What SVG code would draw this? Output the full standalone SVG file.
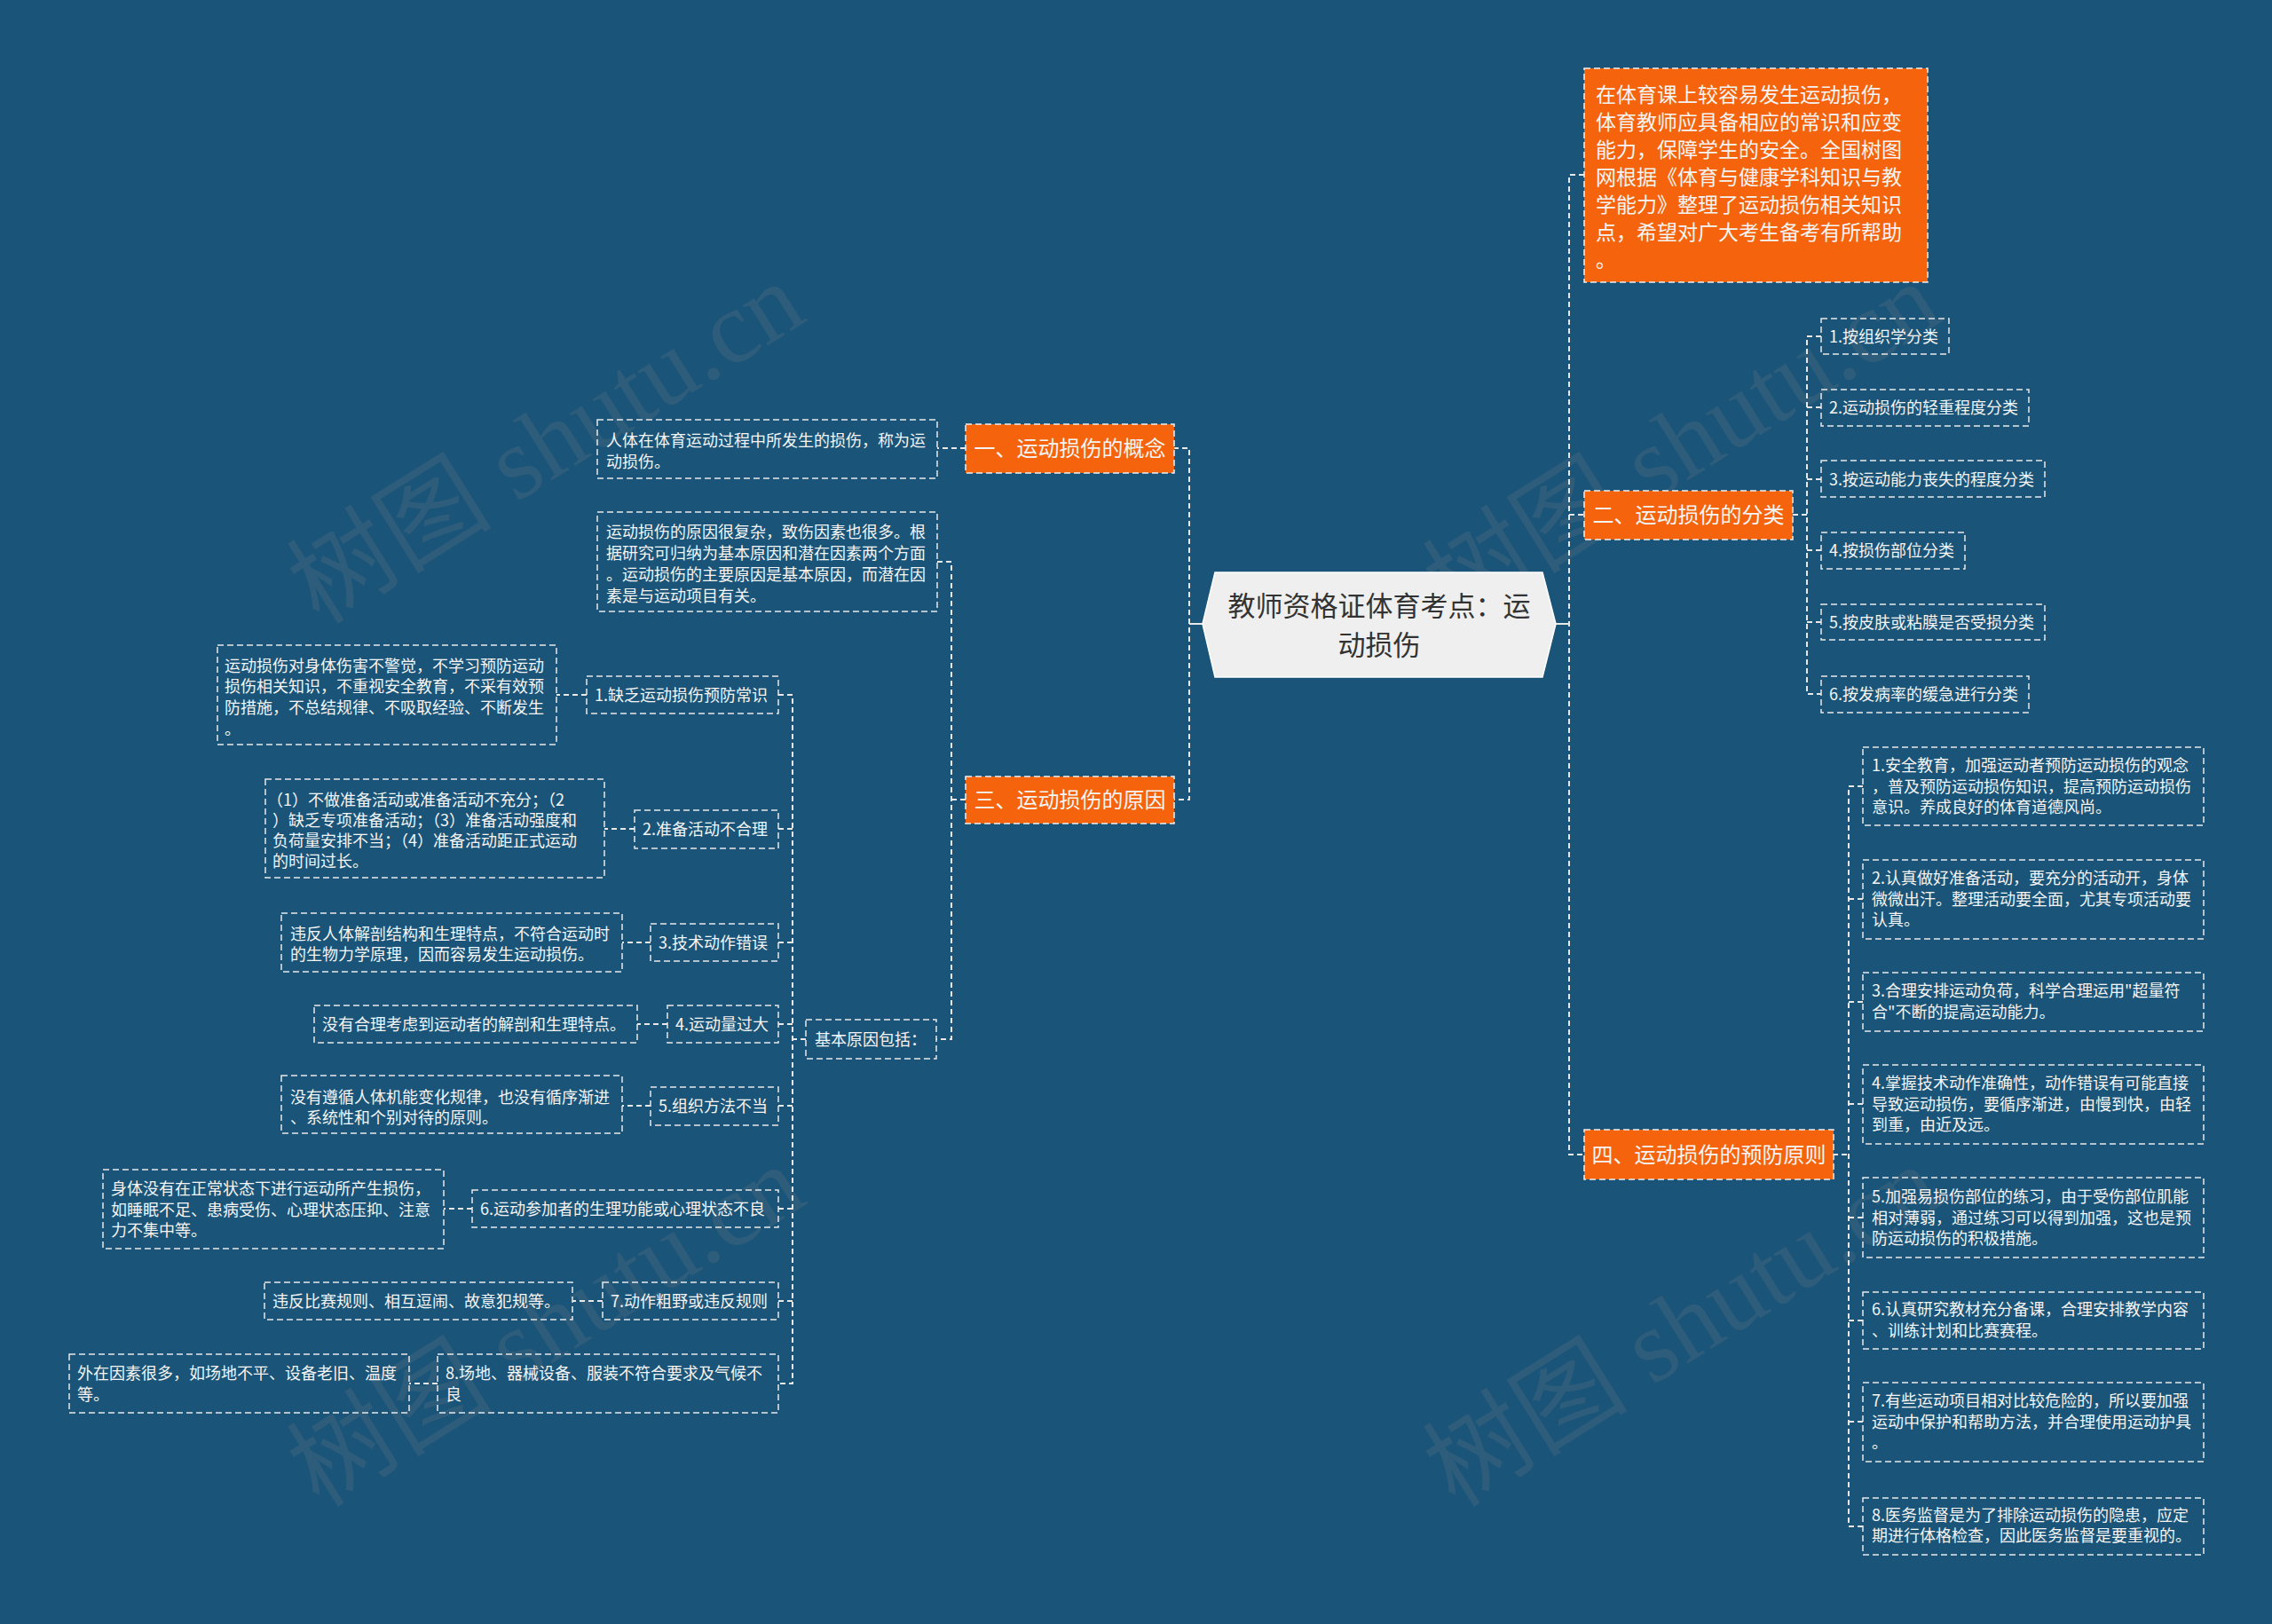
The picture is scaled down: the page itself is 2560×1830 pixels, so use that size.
<svg xmlns="http://www.w3.org/2000/svg" width="2560" height="1830" viewBox="0 0 2560 1830">
<defs>
<style>
.bg{fill:#1a5478}
.ln{fill:none;stroke:#e8e8e8;stroke-width:2;stroke-dasharray:6 4}
.sl{fill:none;stroke:#e8e8e8;stroke-width:2}
.leaf{fill:none;stroke:#e8e8e8;stroke-width:1.5;stroke-dasharray:7 4}
.org{fill:#f5640c;stroke:#f0f0f0;stroke-width:1.5;stroke-dasharray:7 4}
.t{font-family:"Noto Sans CJK SC","Microsoft YaHei",sans-serif;fill:#f4f4f4}
.s18{font-size:18px}
.s24{font-size:24px}
.s23{font-size:23px}
.ctr{text-anchor:middle}
.wm{font-family:"Liberation Serif","Noto Sans CJK SC",serif;font-size:116px;fill:#8a8a8a;opacity:0.18}
</style>
</defs>
<rect class="bg" x="0" y="0" width="2560" height="1830"/>

<g id="watermarks">
<text class="wm" transform="translate(360,705) rotate(-32)">树图 shutu.cn</text>
<text class="wm" transform="translate(1640,705) rotate(-32)">树图 shutu.cn</text>
<text class="wm" transform="translate(360,1700) rotate(-32)">树图 shutu.cn</text>
<text class="wm" transform="translate(1640,1700) rotate(-32)">树图 shutu.cn</text>
</g>

<g id="connectors">
<path class="sl" d="M1753,703 H1768"/>
<path class="sl" d="M1355,703 H1340"/>
<path class="ln" d="M1785,197 H1768 V1301 H1785"/>
<path class="ln" d="M1768,580 H1785"/>
<path class="ln" d="M1322,505 H1340 V901 H1322"/>
<path class="ln" d="M1088,505 H1056"/>
<path class="ln" d="M1088,901 H1072"/>
<path class="ln" d="M1056,633 H1072 V1171 H1055"/>
<path class="ln" d="M908,1171 H893"/>
<path class="ln" d="M877,783 H893 V1559 H877"/>
<path class="ln" d="M877,934 H893 M877,1062 H893 M877,1154 H893 M877,1246 H893 M877,1362 H893 M877,1466 H893"/>
<path class="ln" d="M661,783 H627 M715,934 H681 M733,1062 H701 M752,1154 H718 M733,1246 H701 M532,1362 H500 M679,1466 H645 M493,1559 H461"/>
<path class="ln" d="M2020,580 H2036"/>
<path class="ln" d="M2052,379 H2036 V782 H2052"/>
<path class="ln" d="M2036,459 H2052 M2036,540 H2052 M2036,620 H2052 M2036,701 H2052"/>
<path class="ln" d="M2065,1301 H2083"/>
<path class="ln" d="M2099,886 H2083 V1720 H2099"/>
<path class="ln" d="M2083,1013 H2099 M2083,1129 H2099 M2083,1244 H2099 M2083,1372 H2099 M2083,1488 H2099 M2083,1602 H2099"/>
</g>

<g id="center">
<polygon points="1369,645 1738,645 1753,703 1738,763 1369,763 1355,703" fill="#efefef" stroke="#ffffff" stroke-width="1.5"/>
<text class="t ctr" style="font-size:31px;fill:#333333" x="1554" y="694">教师资格证体育考点：运</text>
<text class="t ctr" style="font-size:31px;fill:#333333" x="1554" y="738">动损伤</text>
</g>

<g id="intro">
<rect class="org" x="1785" y="77" width="387" height="241"/>
<text class="t s23"><tspan x="1798" y="115">在体育课上较容易发生运动损伤，</tspan><tspan x="1798" y="146">体育教师应具备相应的常识和应变</tspan><tspan x="1798" y="177">能力，保障学生的安全。全国树图</tspan><tspan x="1798" y="208">网根据《体育与健康学科知识与教</tspan><tspan x="1798" y="239">学能力》整理了运动损伤相关知识</tspan><tspan x="1798" y="270">点，希望对广大考生备考有所帮助</tspan><tspan x="1798" y="301">。</tspan></text>
</g>

<g id="n1">
<rect class="org" x="1088" y="478" width="235" height="55"/>
<text class="t s24 ctr" x="1205.5" y="514">一、运动损伤的概念</text>
</g>
<g id="n1-1">
<rect class="leaf" x="673" y="473" width="383" height="66"/>
<text class="t s18"><tspan x="683" y="503">人体在体育运动过程中所发生的损伤，称为运</tspan><tspan x="683" y="527">动损伤。</tspan></text>
</g>

<g id="n3">
<rect class="org" x="1088" y="875" width="235" height="53"/>
<text class="t s24 ctr" x="1205.5" y="910">三、运动损伤的原因</text>
</g>
<g id="n3-1">
<rect class="leaf" x="673" y="577" width="383" height="112"/>
<text class="t s18"><tspan x="683" y="606">运动损伤的原因很复杂，致伤因素也很多。根</tspan><tspan x="683" y="630">据研究可归纳为基本原因和潜在因素两个方面</tspan><tspan x="683" y="654">。运动损伤的主要原因是基本原因，而潜在因</tspan><tspan x="683" y="678">素是与运动项目有关。</tspan></text>
</g>
<g id="n3-2">
<rect class="leaf" x="908" y="1149" width="147" height="44"/>
<text class="t s18" x="918" y="1177.5">基本原因包括：</text>
</g>

<g id="c1">
<rect class="leaf" x="661" y="762" width="216" height="42"/>
<text class="t s18" x="670" y="789.5">1.缺乏运动损伤预防常识</text>
</g>
<g id="c1t">
<rect class="leaf" x="245" y="727" width="382" height="112"/>
<text class="t s18"><tspan x="253" y="757">运动损伤对身体伤害不警觉，不学习预防运动</tspan><tspan x="253" y="780">损伤相关知识，不重视安全教育，不采有效预</tspan><tspan x="253" y="804">防措施，不总结规律、不吸取经验、不断发生</tspan><tspan x="253" y="828">。</tspan></text>
</g>

<g id="c2">
<rect class="leaf" x="715" y="913" width="162" height="43"/>
<text class="t s18" x="724" y="940.5">2.准备活动不合理</text>
</g>
<g id="c2t">
<rect class="leaf" x="299" y="878" width="382" height="111"/>
<text class="t s18"><tspan x="301" y="908">（1）不做准备活动或准备活动不充分；（2</tspan><tspan x="307" y="931">）缺乏专项准备活动；（3）准备活动强度和</tspan><tspan x="307" y="954">负荷量安排不当；（4）准备活动距正式运动</tspan><tspan x="307" y="977">的时间过长。</tspan></text>
</g>

<g id="c3">
<rect class="leaf" x="733" y="1041" width="144" height="42"/>
<text class="t s18" x="742" y="1068.5">3.技术动作错误</text>
</g>
<g id="c3t">
<rect class="leaf" x="317" y="1029" width="384" height="66"/>
<text class="t s18"><tspan x="327" y="1059">违反人体解剖结构和生理特点，不符合运动时</tspan><tspan x="327" y="1082">的生物力学原理，因而容易发生运动损伤。</tspan></text>
</g>

<g id="c4">
<rect class="leaf" x="752" y="1133" width="125" height="42"/>
<text class="t s18" x="761" y="1161">4.运动量过大</text>
</g>
<g id="c4t">
<rect class="leaf" x="354" y="1133" width="364" height="42"/>
<text class="t s18" x="363" y="1161">没有合理考虑到运动者的解剖和生理特点。</text>
</g>

<g id="c5">
<rect class="leaf" x="733" y="1225" width="144" height="43"/>
<text class="t s18" x="742" y="1252.5">5.组织方法不当</text>
</g>
<g id="c5t">
<rect class="leaf" x="317" y="1212" width="384" height="65"/>
<text class="t s18"><tspan x="327" y="1243">没有遵循人体机能变化规律，也没有循序渐进</tspan><tspan x="327" y="1266">、系统性和个别对待的原则。</tspan></text>
</g>

<g id="c6">
<rect class="leaf" x="532" y="1341" width="345" height="42"/>
<text class="t s18" x="541" y="1368.5">6.运动参加者的生理功能或心理状态不良</text>
</g>
<g id="c6t">
<rect class="leaf" x="116" y="1318" width="384" height="89"/>
<text class="t s18"><tspan x="125" y="1346">身体没有在正常状态下进行运动所产生损伤，</tspan><tspan x="125" y="1370">如睡眠不足、患病受伤、心理状态压抑、注意</tspan><tspan x="125" y="1393">力不集中等。</tspan></text>
</g>

<g id="c7">
<rect class="leaf" x="679" y="1445" width="198" height="42"/>
<text class="t s18" x="688" y="1472.5">7.动作粗野或违反规则</text>
</g>
<g id="c7t">
<rect class="leaf" x="298" y="1445" width="347" height="42"/>
<text class="t s18" x="307" y="1473">违反比赛规则、相互逗闹、故意犯规等。</text>
</g>

<g id="c8">
<rect class="leaf" x="493" y="1526" width="384" height="66"/>
<text class="t s18"><tspan x="502" y="1554">8.场地、器械设备、服装不符合要求及气候不</tspan><tspan x="502" y="1578">良</tspan></text>
</g>
<g id="c8t">
<rect class="leaf" x="78" y="1526" width="383" height="66"/>
<text class="t s18"><tspan x="87" y="1554">外在因素很多，如场地不平、设备老旧、温度</tspan><tspan x="87" y="1578">等。</tspan></text>
</g>

<g id="n2">
<rect class="org" x="1785" y="553" width="235" height="55"/>
<text class="t s24 ctr" x="1902.5" y="589">二、运动损伤的分类</text>
</g>
<g id="n2-1"><rect class="leaf" x="2052" y="359" width="144" height="40"/><text class="t s18" x="2061" y="385.5">1.按组织学分类</text></g>
<g id="n2-2"><rect class="leaf" x="2052" y="439" width="234" height="41"/><text class="t s18" x="2061" y="465.5">2.运动损伤的轻重程度分类</text></g>
<g id="n2-3"><rect class="leaf" x="2052" y="519" width="252" height="41"/><text class="t s18" x="2061" y="546.5">3.按运动能力丧失的程度分类</text></g>
<g id="n2-4"><rect class="leaf" x="2052" y="600" width="162" height="41"/><text class="t s18" x="2061" y="626.5">4.按损伤部位分类</text></g>
<g id="n2-5"><rect class="leaf" x="2052" y="681" width="252" height="40"/><text class="t s18" x="2061" y="707.5">5.按皮肤或粘膜是否受损分类</text></g>
<g id="n2-6"><rect class="leaf" x="2052" y="762" width="234" height="41"/><text class="t s18" x="2061" y="788.5">6.按发病率的缓急进行分类</text></g>

<g id="n4">
<rect class="org" x="1785" y="1273" width="281" height="56"/>
<text class="t s24 ctr" x="1925.5" y="1309.5">四、运动损伤的预防原则</text>
</g>
<g id="n4-1"><rect class="leaf" x="2099" y="842" width="384" height="88"/><text class="t s18"><tspan x="2109" y="869">1.安全教育，加强运动者预防运动损伤的观念</tspan><tspan x="2109" y="893">，普及预防运动损伤知识，提高预防运动损伤</tspan><tspan x="2109" y="916">意识。养成良好的体育道德风尚。</tspan></text></g>
<g id="n4-2"><rect class="leaf" x="2099" y="969" width="384" height="89"/><text class="t s18"><tspan x="2109" y="996">2.认真做好准备活动，要充分的活动开，身体</tspan><tspan x="2109" y="1020">微微出汗。整理活动要全面，尤其专项活动要</tspan><tspan x="2109" y="1043">认真。</tspan></text></g>
<g id="n4-3"><rect class="leaf" x="2099" y="1096" width="384" height="66"/><text class="t s18"><tspan x="2109" y="1123">3.合理安排运动负荷，科学合理运用"超量符</tspan><tspan x="2109" y="1147">合"不断的提高运动能力。</tspan></text></g>
<g id="n4-4"><rect class="leaf" x="2099" y="1200" width="384" height="89"/><text class="t s18"><tspan x="2109" y="1227">4.掌握技术动作准确性，动作错误有可能直接</tspan><tspan x="2109" y="1251">导致运动损伤，要循序渐进，由慢到快，由轻</tspan><tspan x="2109" y="1274">到重，由近及远。</tspan></text></g>
<g id="n4-5"><rect class="leaf" x="2099" y="1327" width="384" height="90"/><text class="t s18"><tspan x="2109" y="1355">5.加强易损伤部位的练习，由于受伤部位肌能</tspan><tspan x="2109" y="1379">相对薄弱，通过练习可以得到加强，这也是预</tspan><tspan x="2109" y="1402">防运动损伤的积极措施。</tspan></text></g>
<g id="n4-6"><rect class="leaf" x="2099" y="1456" width="384" height="64"/><text class="t s18"><tspan x="2109" y="1482">6.认真研究教材充分备课，合理安排教学内容</tspan><tspan x="2109" y="1506">、训练计划和比赛赛程。</tspan></text></g>
<g id="n4-7"><rect class="leaf" x="2099" y="1558" width="384" height="89"/><text class="t s18"><tspan x="2109" y="1585">7.有些运动项目相对比较危险的，所以要加强</tspan><tspan x="2109" y="1609">运动中保护和帮助方法，并合理使用运动护具</tspan><tspan x="2109" y="1632">。</tspan></text></g>
<g id="n4-8"><rect class="leaf" x="2099" y="1688" width="384" height="64"/><text class="t s18"><tspan x="2109" y="1714">8.医务监督是为了排除运动损伤的隐患，应定</tspan><tspan x="2109" y="1737">期进行体格检查，因此医务监督是要重视的。</tspan></text></g>
</svg>
